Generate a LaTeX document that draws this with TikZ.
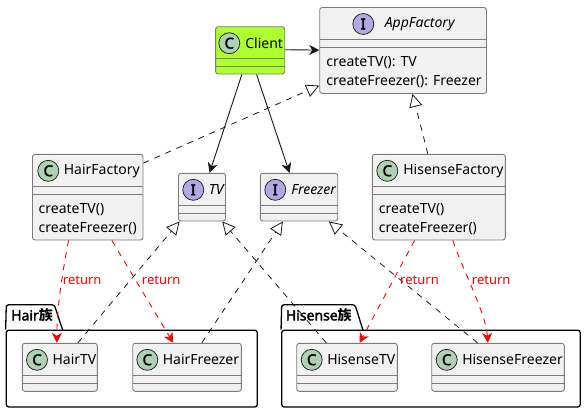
\documentclass[tikz,border=0pt]{standalone}
\usepackage{fontspec}
\setmainfont{Noto Sans}
\newfontfamily\heavy{Noto Sans}[FakeBold=2.2]
\newfontfamily\cjk{Noto Sans CJK SC}
\usetikzlibrary{positioning,arrows.meta,calc}
\definecolor{ink}      {HTML}{181818}
\definecolor{boxfill}  {HTML}{F1F1F1}
\definecolor{boxline}  {HTML}{7C7C7C}
\definecolor{classdot} {HTML}{ADD1B2}
\definecolor{ifacedot} {HTML}{B4A7E5}
\definecolor{clientfill}{HTML}{ADFF2F}
\definecolor{retred}   {HTML}{FF0000}
\tikzset{
  every node/.style={font=\fontsize{14}{19}\selectfont},
  % --- nodes
  cbox/.style   = {rounded corners=2.5pt, draw=boxline, fill=boxfill, inner sep=0pt, line width=0.9pt},
  dot/.style    = {circle, draw=ink, line width=0.7pt, inner sep=0pt, minimum size=21pt,
                   font=\fontsize{15}{15}\selectfont\heavy},
  Cdot/.style   = {dot, fill=classdot},
  Idot/.style   = {dot, fill=ifacedot},
  title/.style  = {inner sep=0pt},
  ititle/.style = {title, font=\fontsize{14}{19}\selectfont\itshape},
  methods/.style= {anchor=north west, align=left, inner sep=0pt},
  pkg/.style    = {rounded corners=2.5pt, draw=black, line width=1.3pt, inner sep=0pt},
  pkgname/.style= {inner sep=0pt, anchor=mid west, font=\fontsize{14}{16}\selectfont\heavy},
  retlbl/.style = {inner sep=0pt, anchor=west, text=retred, font=\fontsize{13}{16}\selectfont},
  % --- edges
  e/.style      = {-{Stealth[length=10pt,width=10pt,inset=3pt]}, draw=ink, line width=0.9pt},
  real/.style   = {-{Triangle[open,length=13pt,width=13pt]}, dash pattern=on 6pt off 6pt,
                   draw=ink, line width=0.8pt},
  ret/.style    = {e, draw=retred, dash pattern=on 6pt off 6pt},
}
% id, left, top, right, bottom, badge x
\newcommand{\classbox}[7][C]{%
  \node[cbox, minimum width={(#5-#3)*1pt}, minimum height={(#6-#4)*1pt}] (#2) at ({(#3+#5)/2},{(#4+#6)/2}) {};
  \draw[boxline, line width=0.9pt] (#3,#4+32) -- (#5,#4+32);
  \draw[boxline, line width=0.9pt] (#3,#4+40) -- (#5,#4+40);
  \node[#1dot] (#2 dot) at (#7,#4+16.5) {#1};
}
\begin{document}
\begin{tikzpicture}[x=1pt,y=-1pt]
  \useasboundingbox (0,0) rectangle (586,413);
  % packages
  \node[pkg, minimum width=251pt, minimum height=76.7pt] (hairpkg) at (131.8,368.6) {};
  \draw[black, line width=1.3pt, rounded corners=2.5pt] (hairpkg.north west) -- (6.3,304.7) -- (54.3,304.7) -- (62.7,330.3);
  \node[pkgname] (hairname) at (11,317.7) {Hair{\cjk\bfseries 族}};
  \node[pkg, minimum width=298.6pt, minimum height=76.7pt] (hisensepkg) at (431,368.6) {};
  \draw[black, line width=1.3pt, rounded corners=2.5pt] (hisensepkg.north west) -- (281.7,304.7) -- (355,304.7) -- (363,330.3);
  \node[pkgname] (hisensename) at (285.7,317.7) {Hisense{\cjk\bfseries 族}};
  % classes
  \begin{scope}[cbox/.append style={fill=clientfill}]
    \classbox{client}{215.6}{26.7}{284.7}{74}{229.3}
  \end{scope}
  \classbox[I]{appfactory}{319.7}{7.5}{486.5}{93.5}{363.3}
  \classbox{hairfactory}{32.5}{154.3}{143}{240}{48.3}
  \classbox[I]{tv}{178.5}{173.3}{225.5}{221}{193.3}
  \classbox[I]{freezer}{260.3}{173.3}{337.7}{221}{275.3}
  \classbox{hisensefactory}{372.3}{154.3}{505.3}{240}{387.3}
  \classbox{hairtv}{22.3}{343.3}{97.3}{391.3}{37}
  \classbox{hairfreezer}{132.7}{343.3}{241.3}{391.3}{147.3}
  \classbox{hisensetv}{296.7}{343.3}{397.3}{391.3}{311.7}
  \classbox{hisensefreezer}{431.7}{343.3}{564.3}{391.3}{446.7}
  % titles
  \node[title, right=5pt of client dot] (client name) {Client};
  \node[ititle, right=10.5pt of appfactory dot] (appfactory name) {AppFactory};
  \node[title, right=4.5pt of hairfactory dot] (hairfactory name) {HairFactory};
  \node[ititle, right=4.5pt of tv dot] (tv name) {TV};
  \node[ititle, right=5pt of freezer dot] (freezer name) {Freezer};
  \node[title, right=5pt of hisensefactory dot] (hisensefactory name) {HisenseFactory};
  \node[title, right=4.5pt of hairtv dot] (hairtv name) {HairTV};
  \node[title, right=4.5pt of hairfreezer dot] (hairfreezer name) {HairFreezer};
  \node[title, right=4.5pt of hisensetv dot] (hisensetv name) {HisenseTV};
  \node[title, right=4.5pt of hisensefreezer dot] (hisensefreezer name) {HisenseFreezer};
  % methods
  \node[methods] (appfactory m) at (326.2,56.5) {createTV(): TV\\createFreezer(): Freezer};
  \node[methods] (hairfactory m) at (38.5,203.5) {createTV()\\createFreezer()};
  \node[methods] (hisensefactory m) at (378.7,203.5) {createTV()\\createFreezer()};
  % edges
  \draw[e] ([yshift=-23.5pt]client.north east) -- ([yshift=-43pt]appfactory.north west);
  \draw[e] ([xshift=26.7pt]client.south west) -- ([xshift=31.5pt]tv.north west);
  \draw[e] ([xshift=41.4pt]client.south west) -- ([xshift=29.7pt]freezer.north west);
  \draw[real] ([yshift=-9.2pt]hairfactory.north east) -- ([yshift=-78.5pt]appfactory.north west);
  \draw[real] ([xshift=56pt]hisensefactory.north west) -- ([xshift=93.3pt]appfactory.south west);
  \draw[real] ([xshift=56pt]hairtv.north west) -- ([xshift=1.5pt]tv.south west);
  \draw[real] ([xshift=30pt]hisensetv.north west) -- ([xshift=44.2pt]tv.south west);
  \draw[real] ([xshift=69.6pt]hairfreezer.north west) -- ([xshift=23pt]freezer.south west);
  \draw[real] ([xshift=46.3pt]hisensefreezer.north west) -- ([xshift=69pt]freezer.south west);
  \draw[ret] ([xshift=36.5pt]hairfactory.south west) .. controls +(-6,32) and +(0,-36) .. ([xshift=35pt]hairtv.north west);
  \draw[ret] ([xshift=79.8pt]hairfactory.south west) -- ([xshift=41pt]hairfreezer.north west);
  \draw[ret] ([xshift=42.7pt]hisensefactory.south west) -- ([xshift=63.3pt]hisensetv.north west);
  \draw[ret] ([xshift=81pt]hisensefactory.south west) .. controls +(10,30) and +(-2,-30) .. ([xshift=56.6pt]hisensefreezer.north west);
  % labels
  \node[retlbl] (ret hairtv) at (62.7,280.7) {return};
  \node[retlbl] (ret hairfreezer) at (141.7,280.7) {return};
  \node[retlbl] (ret hisensetv) at (400,280.7) {return};
  \node[retlbl] (ret hisensefreezer) at (471.7,280.7) {return};
\end{tikzpicture}
\end{document}
